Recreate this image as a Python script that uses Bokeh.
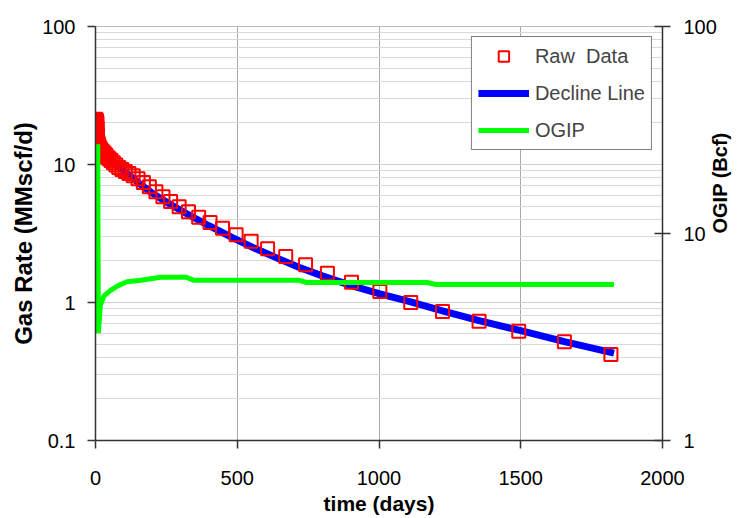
import math
from bokeh.plotting import figure
from bokeh.models import (Range1d, LogAxis, LogScale, FixedTicker, Legend, LegendItem,
                          CustomJSTickFormatter)
from bokeh.embed import file_html
from bokeh.resources import INLINE

# ---- data ----
raw_days = [0, 0, 0, 0, 0, 0, 1, 1, 1, 1, 2, 2, 2, 2, 3, 3, 3, 4, 4, 5, 5, 6, 6, 7, 8, 9,
            10, 12, 15, 18, 22, 26, 31, 36, 42, 48,
            55, 63, 72, 82, 93, 105, 118, 133, 150, 169, 190, 213, 238, 265, 295, 328, 364, 404,
            448, 496, 549, 607, 671, 741, 818, 903, 1003, 1112, 1224, 1353, 1493, 1654, 1818]
raw_rate = [21.3, 19.5, 17.8, 16.2, 14.8, 13.3, 21.2, 18.6, 15.6, 13.6, 21.0, 19.0, 16.8, 14.2,
            20.8, 17.4, 14.6, 19.8, 15.2, 20.2, 16.0, 18.2, 14.9, 16.6, 14.6, 13.9,
            14.2, 13.6, 13.2, 12.9, 12.6, 12.3, 12.0, 11.7, 11.3, 11.0,
            10.7, 10.3, 9.9, 9.5, 9.2, 8.9, 8.6, 8.3, 7.9, 7.4, 6.9, 6.35, 5.85, 5.4, 4.95, 4.55, 4.15, 3.80,
            3.45, 3.10, 2.78, 2.45, 2.15, 1.88, 1.63, 1.40, 1.20, 1.00, 0.86, 0.73, 0.62, 0.52, 0.42]

decline_days = [0, 20, 50, 112, 150, 200, 260, 322, 400, 483, 560, 647, 717, 800, 900, 1000,
                1112, 1224, 1353, 1493, 1654, 1829]
decline_rate = [14.0, 12.3, 10.8, 8.6, 7.4, 6.2, 5.2, 4.4, 3.6, 2.95, 2.48, 2.07, 1.80, 1.56, 1.33, 1.16,
                1.01, 0.87, 0.74, 0.63, 0.52, 0.43]

ogip_days = [8, 10, 17, 30, 52, 80, 111, 160, 230, 320, 345, 715, 745, 1170, 1200, 1829]
ogip_bcf = [27.0, 3.3, 4.5, 5.0, 5.3, 5.6, 5.85, 5.95, 6.15, 6.15, 5.95, 5.95, 5.8, 5.8, 5.67, 5.67]

x_ticks = [0, 500, 1000, 1500, 2000]
rate_ticks = [0.1, 1, 10, 100]
ogip_ticks = [1, 10, 100]
rate_minor = [m * d for d in (0.1, 1, 10) for m in range(2, 10)]

FONT = "Liberation Sans"
AXIS_COL = "#333333"

p = figure(width=744, height=518, x_range=Range1d(0, 2000), y_range=Range1d(0.1, 100),
           y_axis_type="log", output_backend="svg", toolbar_location=None,
           min_border_left=95, min_border_right=77, min_border_top=26, min_border_bottom=78)
p.background_fill_color = "white"
p.border_fill_color = "white"
p.outline_line_color = "#bdbdbd"

p.extra_y_ranges = {"ogip": Range1d(1, 100)}
p.extra_y_scales = {"ogip": LogScale()}

# x axis
xa = p.xaxis[0]
xa.ticker = FixedTicker(ticks=x_ticks)
xa.axis_label = "time (days)"
xa.minor_tick_line_color = None
xa.major_tick_in = 0
xa.major_tick_out = 8
xa.major_label_standoff = 22
xa.axis_label_standoff = 4

# left y axis
ya = p.yaxis[0]
ya.ticker = FixedTicker(ticks=rate_ticks, minor_ticks=rate_minor)
ya.formatter = CustomJSTickFormatter(code="return String(tick);")
ya.axis_label = "Gas Rate (MMscf/d)"
ya.minor_tick_line_color = None
ya.major_tick_in = 0
ya.major_tick_out = 8
ya.major_label_standoff = 12
ya.axis_label_standoff = 2

# right y axis
ra = LogAxis(y_range_name="ogip", ticker=FixedTicker(ticks=ogip_ticks),
             formatter=CustomJSTickFormatter(code="return String(tick);"))
ra.minor_tick_line_color = None
ra.major_tick_in = 8
ra.major_tick_out = 8
ra.major_label_standoff = 13
ra.axis_label = "OGIP (Bcf)"
ra.axis_label_standoff = 0
if "axis_label_orientation" in ra.properties():
    ra.axis_label_orientation = math.pi / 2
p.add_layout(ra, "right")

for ax in (xa, ya, ra):
    ax.axis_line_color = AXIS_COL
    ax.axis_line_width = 1.5
    ax.major_tick_line_color = AXIS_COL
    ax.major_tick_line_width = 1.5
    ax.major_label_text_font = FONT
    ax.major_label_text_font_size = "20px"
    ax.major_label_text_color = "black"
    ax.axis_label_text_font = FONT
    ax.axis_label_text_font_style = "bold"
    ax.axis_label_text_color = "black"
xa.axis_label_text_font_size = "21px"
ya.axis_label_text_font_size = "24px"
ra.axis_label_text_font_size = "20px"

# grids
p.xgrid.grid_line_color = "#a8a8a8"
p.xgrid.grid_line_width = 1
p.ygrid.grid_line_color = "#cfcfcf"
p.ygrid.minor_grid_line_color = "#d9d9d9"
p.ygrid.grid_line_width = 1

# glyphs
r_dec = p.line(decline_days, decline_rate, line_color="#0000ff", line_width=7)
r_raw = p.scatter(raw_days, raw_rate, marker="square", size=13, fill_color=None,
                  line_color="#ff0000", line_width=2)
r_ogip = p.line(ogip_days, ogip_bcf, line_color="#00ff00", line_width=5, y_range_name="ogip")

legend = Legend(items=[LegendItem(label="Raw  Data", renderers=[r_raw]),
                       LegendItem(label="Decline Line", renderers=[r_dec]),
                       LegendItem(label="OGIP", renderers=[r_ogip])],
                location="top_right")
legend.border_line_color = "black"
legend.border_line_width = 1
legend.background_fill_color = "white"
legend.background_fill_alpha = 1
legend.label_text_font = FONT
legend.label_text_font_size = "20px"
legend.glyph_width = 51
legend.glyph_height = 26
legend.label_height = 26
legend.spacing = 11
legend.padding = 6
legend.margin = 10
legend.label_standoff = 6
p.add_layout(legend)

open("out.html", "w").write(file_html(p, INLINE))
